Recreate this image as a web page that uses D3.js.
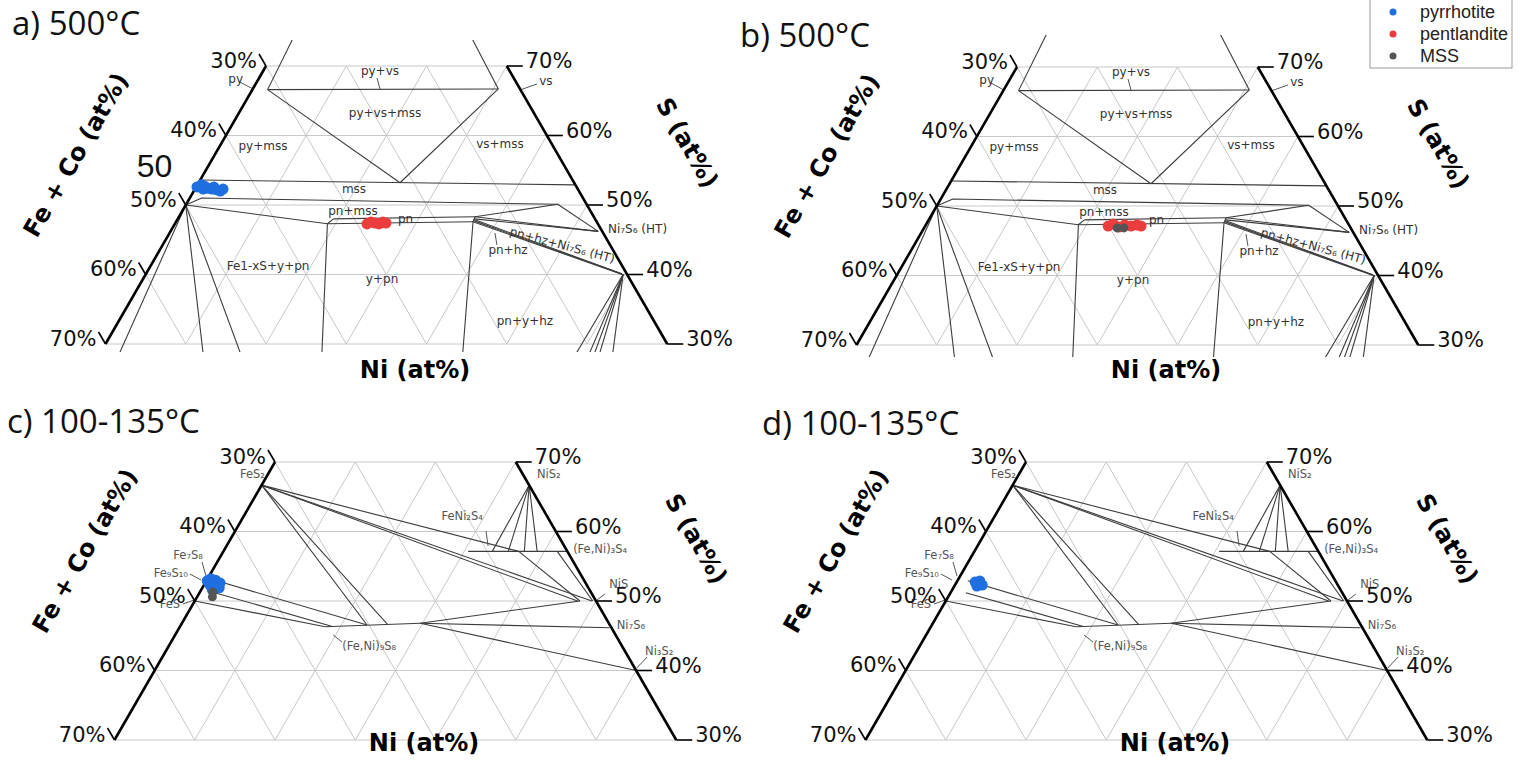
<!DOCTYPE html>
<html>
<head>
<meta charset="utf-8">
<script src="https://cdn.jsdelivr.net/npm/d3@7"></script>
<style>
  body { margin: 0; background: #fff; }
  svg { display: block; }
</style>
</head>
<body>
<svg id="chart" width="1520" height="770"></svg>
<script>
// every composition is [S at%, Ni at%], Fe + Co is what is left
const sTicks = [30, 40, 50, 60, 70];
const gridSteps = [10, 20, 30, 40, 50, 60];
const seriesNames = ["pyrrhotite", "pentlandite", "MSS"];

// measured grains
const pyrrhotiteA = [[52.6, 0.1], [52.9, 0.5], [52.7, 1.0], [52.4, 1.55], [52.3, 2.1], [52.2, 2.7], [52.0, 3.3], [52.3, 3.5], [52.3, 1.0], [52.6, 2.2]];
const pentlanditeA = [[47.27, 23.95], [47.55, 24.31], [47.41, 24.88], [47.27, 25.45], [47.55, 25.8], [47.41, 26.25]];
const pentlanditeB = [[47.12, 22.8], [47.41, 23.3], [46.98, 24.2], [47.27, 24.8], [47.12, 25.65], [47.27, 26.3], [47.12, 26.9]];
const mssB = [[46.85, 24.05], [46.85, 24.9]];
const pyrrhotiteC = [[52.9, 0.1], [53.2, 0.4], [53.0, 1.1], [52.6, 1.85], [52.3, 0.75], [52.0, 1.5], [51.9, 2.1], [51.6, 1.4]];
const mssC = [[50.6, 1.9], [51.3, 1.6]];
const pyrrhotiteD = [[52.73, 2.3], [52.88, 2.8], [52.16, 2.8], [52.3, 3.4]];

// 500 °C section, phase boundaries
const lines500 = [
  [[75, 1.3], [66.6, 1.9]],
  [[66.6, 1.9], [66.7, 30.6]],
  [[66.7, 30.6], [75, 22.7]],
  [[66.6, 1.9], [53.2, 25.1]],
  [[66.7, 30.6], [53.2, 25.1]],
  [[53.6, 0], [52.9, 47.1]],
  [[50, 0], [51.0, 1.5], [50.1, 46.3], [46.2, 53.3]],
  [[50, 0], [47.3, 19.0]],
  [[50, 0], [28, 2.48]],
  [[50, 0], [28, 13.23]],
  [[50, 0], [28, 18.03]],
  [[48.0, 19.4], [47.3, 19.0], [28, 27.94]],
  [[48.0, 19.4], [48.3, 36.9]],
  [[47.3, 19.0], [47.6, 37.0]],
  [[48.3, 36.9], [47.6, 37.0], [28, 45.47]],
  [[48.3, 36.9], [50.1, 46.3]],
  [[48.3, 36.9], [46.2, 53.3]],
  [[48.0, 37.0], [46.2, 53.3]],
  [[47.9, 37.0], [40.1, 59.3]],
  [[47.75, 37.0], [40.0, 59.5]],
  [[47.6, 37.0], [39.9, 59.7]],
  [[40, 59.5], [28, 59.32]],
  [[40, 59.5], [28, 61.06]],
  [[40, 59.5], [28, 61.73]],
  [[40, 59.5], [28, 62.41]],
  [[40, 59.5], [28, 64.13]]
];

const labels500 = [
  { t: "py", s: 67.55, ni: -1.64, a: "end" },
  { t: "py+vs", s: 68.7, ni: 14.85 },
  { t: "py+vs+mss", s: 62.66, ni: 18.5 },
  { t: "py+mss", s: 57.91, ni: 5.67 },
  { t: "vs+mss", s: 58.2, ni: 35.06 },
  { t: "vs", s: 67.27, ni: 35.4, a: "start" },
  { t: "mss", s: 51.73, ni: 20.1 },
  { t: "pn+mss", s: 48.56, ni: 21.56 },
  { t: "pn", s: 47.41, ni: 27.74, a: "start" },
  { t: "Fe1-xS+y+pn", s: 40.65, ni: 14.93 },
  { t: "y+pn", s: 38.78, ni: 30.07 },
  { t: "pn+hz", s: 42.95, ni: 43.68 },
  { t: "pn+hz+Ni₇S₆ (HT)", s: 45.68, ni: 42.44, a: "start", r: 15 },
  { t: "Ni₇S₆ (HT)", s: 45.97, ni: 54.63, a: "start" },
  { t: "pn+y+hz", s: 32.73, ni: 50.9 }
];

const leaders500 = [
  [[67.7, -2.1], [66.69, 0.03]],
  [[68.27, 14.7], [66.69, 15.86]],
  [[66.55, 33.38], [67.41, 35.06]],
  [[45.97, 40.55], [44.24, 41.66]]
];

// 100-135 °C section
const lines135 = [
  [[66.67, 0], [57.14, 36.8]],
  [[57.14, 36.8], [50, 48]],
  [[66.67, 0], [50, 49.5]],
  [[66.67, 0], [50, 47.7]],
  [[66.67, 0], [46.55, 23.2]],
  [[66.67, 0], [46.65, 25.7]],
  [[66.67, 33.33], [57.14, 33.5]],
  [[66.67, 33.33], [57.14, 35.5]],
  [[66.67, 33.33], [57.14, 37.5]],
  [[66.67, 33.33], [57.14, 39.1]],
  [[57.14, 30.5], [57.14, 42.86]],
  [[57.14, 41.6], [50, 49.6]],
  [[52.9, 1.3], [46.55, 23.2]],
  [[51.2, 1.9], [46.3, 19.1]],
  [[50, 0], [46.3, 18.1]],
  [[46.3, 18.1], [46.8, 29.7]],
  [[46.8, 29.7], [50, 48]],
  [[46.8, 29.7], [46.15, 53.6]],
  [[46.8, 29.7], [40, 60]]
];

const labels135 = [
  { t: "FeS₂", s: 67.7, ni: -0.1, a: "end" },
  { t: "NiS₂", s: 67.7, ni: 33.8, a: "start" },
  { t: "FeNi₂S₄", s: 61.65, ni: 27.5 },
  { t: "(Fe,Ni)₃S₄", s: 56.9, ni: 43.7, a: "start" },
  { t: "NiS", s: 51.9, ni: 50.7, a: "start" },
  { t: "Ni₇S₆", s: 45.97, ni: 54.6, a: "start" },
  { t: "Ni₃S₂", s: 42.23, ni: 60.0, a: "start" },
  { t: "Fe₇S₈", s: 56.04, ni: -2.0, a: "end" },
  { t: "Fe₉S₁₀", s: 53.45, ni: -2.57, a: "end" },
  { t: "FeS", s: 49.0, ni: -1.33, a: "end" },
  { t: "(Fe,Ni)₉S₈", s: 42.95, ni: 21.9, a: "start" }
];

const leaders135 = [
  [[55.61, -1.9], [53.6, -0.4]],
  [[53.88, -2.53], [53.02, -0.73]],
  [[49.57, -1.25], [50.14, -0.16]],
  [[60.07, 31.26], [57.91, 32.6]],
  [[45.1, 19.7], [44.1, 21.3]],
  [[50.14, 50.06], [51.0, 50.6]],
  [[40.36, 59.9], [41.94, 60.4]]
];

const colors = { pyrrhotite: "#1f6fe0", pentlandite: "#eb3d3d", MSS: "#555555" };

const panels = [
  { ox: 266, oy: 66, title: "a) 500°C", tx: 12, ty: 35, lines: lines500, labels: labels500, leaders: leaders500,
    clip: [-26, 286], niY: 312, labelFill: "#333", labelSize: 12, stray: "50",
    series: [["pyrrhotite", pyrrhotiteA], ["pentlandite", pentlanditeA]] },
  { ox: 1017, oy: 67, title: "b) 500°C", tx: 740, ty: 47, lines: lines500, labels: labels500, leaders: leaders500,
    clip: [-32, 290], niY: 311, labelFill: "#333", labelSize: 12,
    series: [["pentlandite", pentlanditeB], ["MSS", mssB]] },
  { ox: 275, oy: 462, title: "c) 100-135°C", tx: 7, ty: 433, lines: lines135, labels: labels135, leaders: leaders135,
    clip: [-30, 290], niY: 289, labelFill: "#555", labelSize: 11.5,
    series: [["pyrrhotite", pyrrhotiteC], ["MSS", mssC]] },
  { ox: 1026, oy: 462, title: "d) 100-135°C", tx: 762, ty: 435, lines: lines135, labels: labels135, leaders: leaders135,
    clip: [-30, 290], niY: 289, labelFill: "#555", labelSize: 11.5,
    series: [["pyrrhotite", pyrrhotiteD]] }
];

const svg = d3.select("#chart");
const kx = 8.025, ky = 6.95;   // px per at% along Ni and along S

panels.forEach((p, i) => {
  // ternary -> screen: X = Ni + S/2 horizontally, S vertically
  const x = d3.scaleLinear().domain([35, 65]).range([p.ox, p.ox + 30 * kx]);
  const y = d3.scaleLinear().domain([70, 30]).range([p.oy, p.oy + 40 * ky]);
  const px = d => x(d[1] + d[0] / 2);
  const py = d => y(d[0]);
  const line = d3.line().x(px).y(py);

  const g = svg.append("g");

  const grid = [];
  sTicks.forEach(s => grid.push([[s, 0], [s, 100 - s]]));
  gridSteps.forEach(n => {
    const top = Math.min(70, 100 - n);
    grid.push([[30, n], [top, n]]);
    grid.push([[30, 70 - n], [top, 100 - top - n]]);
  });
  g.append("g").selectAll("path").data(grid).join("path")
    .attr("d", line)
    .attr("fill", "none")
    .attr("stroke", "#c8c8c8")
    .attr("stroke-width", 1);

  svg.append("clipPath").attr("id", "clip" + i)
    .append("rect")
    .attr("x", p.ox - 260).attr("y", p.oy + p.clip[0])
    .attr("width", 760).attr("height", p.clip[1] - p.clip[0]);

  g.append("g").attr("clip-path", `url(#clip${i})`)
    .selectAll("path").data(p.lines).join("path")
    .attr("d", line)
    .attr("fill", "none")
    .attr("stroke", "#3c3c3c")
    .attr("stroke-width", 1.1)
    .attr("stroke-linejoin", "round");

  g.append("g").selectAll("path").data(p.leaders).join("path")
    .attr("d", line)
    .attr("fill", "none")
    .attr("stroke", "#555")
    .attr("stroke-width", 1);

  g.append("g").selectAll("text").data(p.labels).join("text")
    .attr("transform", d => `translate(${px([d.s, d.ni])},${py([d.s, d.ni])})` + (d.r ? ` rotate(${d.r})` : ""))
    .attr("text-anchor", d => d.a || "middle")
    .attr("font-family", "DejaVu Sans, sans-serif")
    .attr("font-size", p.labelSize)
    .attr("fill", p.labelFill)
    .text(d => d.t);

  // the two binary edges
  const edges = [[[70, 0], [30, 0]], [[70, 30], [30, 70]]];
  g.append("g").selectAll("path").data(edges).join("path")
    .attr("d", line)
    .attr("fill", "none")
    .attr("stroke", "#000")
    .attr("stroke-width", 2.6);

  // Fe + Co ticks on the left edge
  const left = g.append("g").selectAll("g").data(sTicks).join("g")
    .attr("transform", s => `translate(${px([s, 0])},${py([s, 0])})`);
  left.append("line").attr("x2", -7).attr("y2", -12).attr("stroke", "#000").attr("stroke-width", 1.6);
  left.append("text")
    .attr("x", -9).attr("y", 1.5)
    .attr("text-anchor", "end")
    .attr("font-family", "DejaVu Sans, sans-serif")
    .attr("font-size", 21)
    .attr("fill", "#111")
    .text(s => (100 - s) + "%");

  // S ticks on the right edge
  const right = g.append("g").selectAll("g").data(sTicks).join("g")
    .attr("transform", s => `translate(${px([s, 100 - s])},${py([s, 100 - s])})`);
  right.append("line").attr("x2", 16).attr("stroke", "#000").attr("stroke-width", 1.6);
  right.append("text")
    .attr("x", 19).attr("y", 2)
    .attr("font-family", "DejaVu Sans, sans-serif")
    .attr("font-size", 21)
    .attr("fill", "#111")
    .text(s => s + "%");

  const bold = sel => sel.attr("font-family", "DejaVu Sans, sans-serif")
    .attr("font-weight", "bold").attr("font-size", 24).attr("fill", "#000");

  g.append("text").call(bold)
    .attr("transform", `translate(${p.ox - 190},${p.oy + 89}) rotate(-60)`)
    .attr("text-anchor", "middle").attr("dominant-baseline", "central")
    .text("Fe + Co (at%)");
  g.append("text").call(bold)
    .attr("transform", `translate(${p.ox + 421},${p.oy + 77}) rotate(60)`)
    .attr("text-anchor", "middle").attr("dominant-baseline", "central")
    .text("S (at%)");
  g.append("text").call(bold)
    .attr("x", p.ox + 149).attr("y", p.oy + p.niY)
    .attr("text-anchor", "middle")
    .text("Ni (at%)");

  g.append("text")
    .attr("x", p.tx).attr("y", p.ty)
    .attr("font-family", "Open Sans, sans-serif")
    .attr("font-size", 33)
    .attr("fill", "#111")
    .text(p.title);

  if (p.stray) {
    g.append("text")
      .attr("x", x(-8.1 + 27)).attr("y", y(54.03))
      .attr("font-family", "Liberation Sans, Arial, sans-serif")
      .attr("font-size", 32)
      .attr("fill", "#111")
      .text(p.stray);
  }

  p.series.forEach(([name, pts]) => {
    g.append("g").selectAll("circle").data(pts).join("circle")
      .attr("cx", px).attr("cy", py)
      .attr("r", name === "MSS" ? 4.5 : 5.5)
      .attr("fill", colors[name]);
  });
});

// legend
const legend = svg.append("g").attr("transform", "translate(1370,-2)");
legend.append("rect")
  .attr("width", 142).attr("height", 70)
  .attr("fill", "#fff").attr("stroke", "#999").attr("stroke-width", 1);
const rows = legend.selectAll("g").data(seriesNames).join("g")
  .attr("transform", (d, i) => `translate(0,${14 + i * 22})`);
rows.append("circle").attr("cx", 23).attr("r", 3.5).attr("fill", d => colors[d]);
rows.append("text")
  .attr("x", 50).attr("y", 6)
  .attr("font-family", "Liberation Sans, Arial, sans-serif")
  .attr("font-size", 18)
  .attr("fill", "#222")
  .text(d => d);
</script>
</body>
</html>
